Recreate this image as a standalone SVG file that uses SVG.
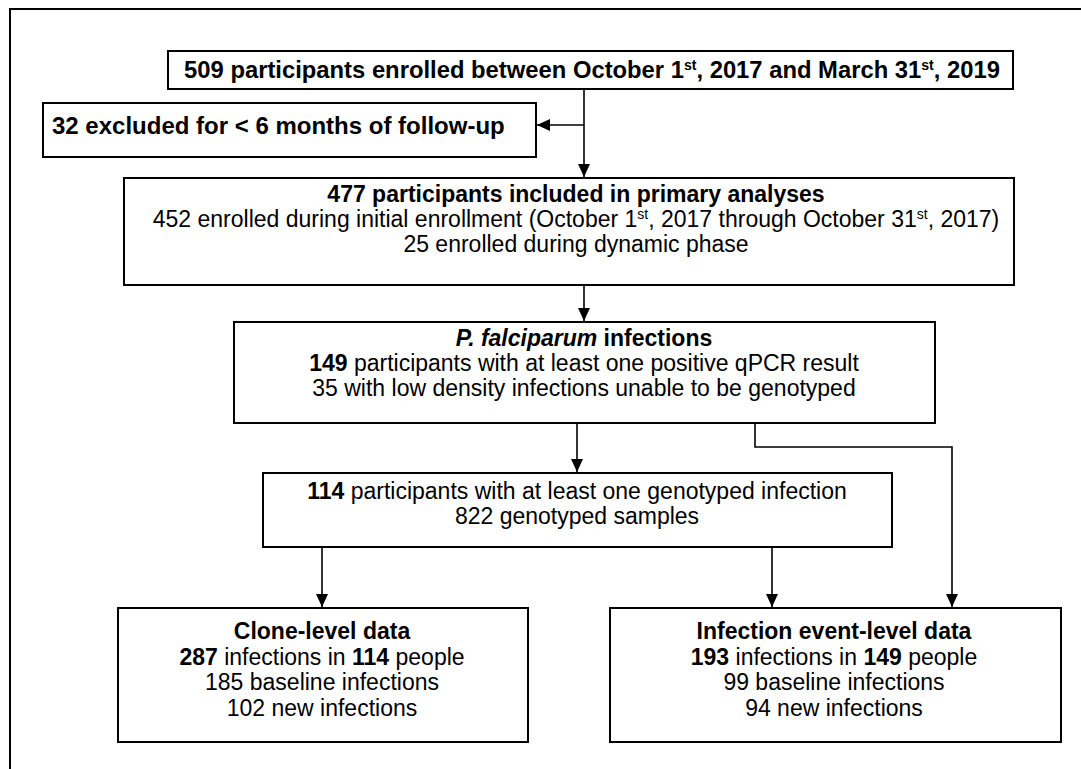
<svg xmlns="http://www.w3.org/2000/svg" width="1081" height="769" viewBox="0 0 1081 769">
<style>
.box{fill:#fff;stroke:#000;stroke-width:2}
.t{font-family:"Liberation Sans",Arial,sans-serif;font-size:23px;fill:#000;text-anchor:middle}
.b{font-weight:bold}
.big{font-size:23.8px}
.sup{font-size:14px}
.c{fill:none;stroke:#000;stroke-width:1.6}
</style>
<defs>
<marker id="ah" markerUnits="userSpaceOnUse" markerWidth="14" markerHeight="14" viewBox="0 0 14 14" refX="13" refY="7" orient="auto">
<path d="M0,1 L13,7 L0,13 Z" fill="#000"/>
</marker>
</defs>
<rect width="1081" height="769" fill="#fff"/>
<path d="M10,769 V9 H1081" fill="none" stroke="#000" stroke-width="2"/>

<g id="connectors">
<line class="c" x1="584" y1="89" x2="584" y2="177" marker-end="url(#ah)"/>
<line class="c" x1="584" y1="125" x2="537" y2="125" marker-end="url(#ah)"/>
<line class="c" x1="584" y1="286" x2="584" y2="321" marker-end="url(#ah)"/>
<line class="c" x1="577" y1="424" x2="577" y2="472" marker-end="url(#ah)"/>
<polyline class="c" points="755,424 755,447 952,447 952,607" marker-end="url(#ah)"/>
<line class="c" x1="322" y1="548" x2="322" y2="607" marker-end="url(#ah)"/>
<line class="c" x1="772" y1="548" x2="772" y2="607" marker-end="url(#ah)"/>
</g>

<g id="enrolled">
<rect class="box" x="168" y="51" width="845" height="38"/>
<text class="t b big" x="592" y="78">509 participants enrolled between October 1<tspan class="sup" dy="-8">st</tspan><tspan dy="8">, 2017 and March 31</tspan><tspan class="sup" dy="-8">st</tspan><tspan dy="8">, 2019</tspan></text>
</g>

<g id="excluded">
<rect class="box" x="43" y="103" width="493" height="54"/>
<text class="t b" x="52" y="134" style="text-anchor:start;font-size:24px">32 excluded for &lt; 6 months of follow-up</text>
</g>

<g id="included">
<rect class="box" x="124" y="178" width="890" height="107"/>
<text class="t b" x="576" y="202">477 participants included in primary analyses</text>
<text class="t" x="576" y="227">452 enrolled during initial enrollment (October 1<tspan class="sup" dy="-8">st</tspan><tspan dy="8">, 2017 through October 31</tspan><tspan class="sup" dy="-8">st</tspan><tspan dy="8">, 2017)</tspan></text>
<text class="t" x="576" y="252">25 enrolled during dynamic phase</text>
</g>

<g id="pf">
<rect class="box" x="234" y="322" width="701" height="101"/>
<text class="t b" x="584" y="346"><tspan font-style="italic">P. falciparum</tspan> infections</text>
<text class="t" x="584" y="371"><tspan class="b">149</tspan> participants with at least one positive qPCR result</text>
<text class="t" x="584" y="396">35 with low density infections unable to be genotyped</text>
</g>

<g id="genotyped">
<rect class="box" x="263" y="473" width="629" height="74"/>
<text class="t" x="577" y="499"><tspan class="b">114</tspan> participants with at least one genotyped infection</text>
<text class="t" x="577" y="524">822 genotyped samples</text>
</g>

<g id="clone">
<rect class="box" x="118" y="608" width="410" height="134"/>
<text class="t b" x="322" y="639">Clone-level data</text>
<text class="t" x="322" y="665"><tspan class="b">287</tspan> infections in <tspan class="b">114</tspan> people</text>
<text class="t" x="322" y="690">185 baseline infections</text>
<text class="t" x="322" y="716">102 new infections</text>
</g>

<g id="event">
<rect class="box" x="610" y="608" width="451" height="134"/>
<text class="t b" x="834" y="639">Infection event-level data</text>
<text class="t" x="834" y="665"><tspan class="b">193</tspan> infections in <tspan class="b">149</tspan> people</text>
<text class="t" x="834" y="690">99 baseline infections</text>
<text class="t" x="834" y="716">94 new infections</text>
</g>
</svg>
